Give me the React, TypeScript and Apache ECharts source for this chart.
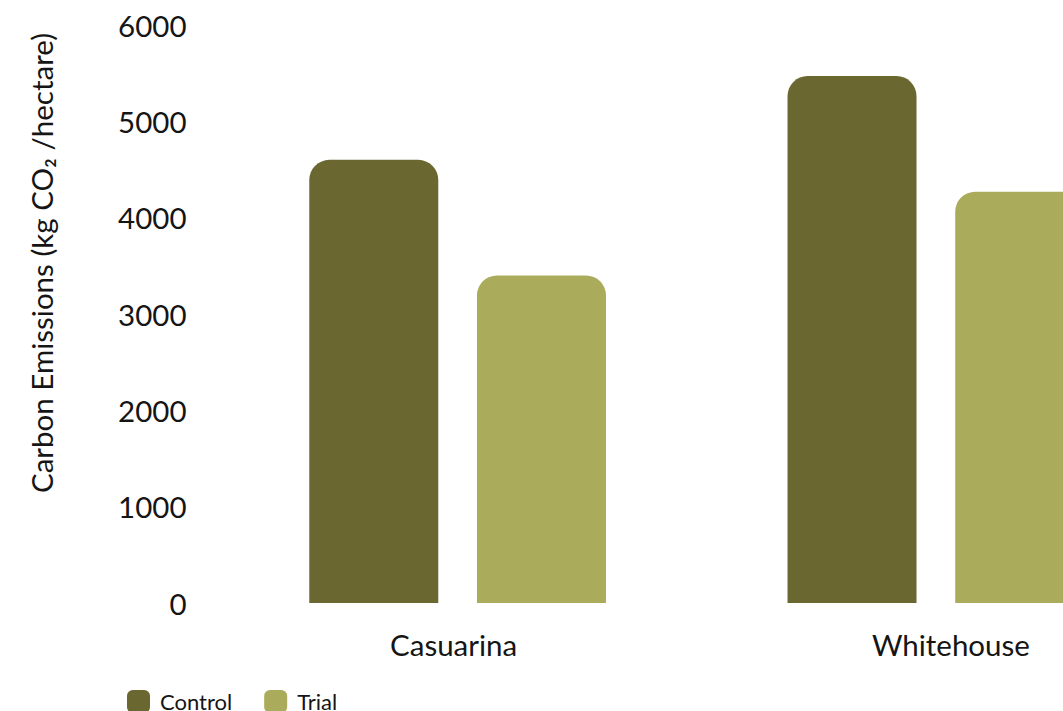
import React, { useEffect, useRef } from "react";
import * as echarts from "echarts";

const categories = ["Casuarina", "Whitehouse"];
const controlValues = [4600, 5470];
const trialValues = [3400, 4270];
const seriesNames = ["Control", "Trial"];
const yTicks = { min: 0, max: 6000, interval: 1000 };
const yAxisTitle = "Carbon Emissions (kg CO\u2082 /hectare)";

const FONT = "Lato, 'Noto Sans', sans-serif";
const TEXT = "#151515";
const DARK = "#6a6830";
const LIGHT = "#abab5c";

export default function App() {
  const ref = useRef<HTMLDivElement>(null);
  useEffect(() => {
    if (!ref.current) return;
    const chart = echarts.init(ref.current, null, { renderer: "svg" });
    chart.setOption({
      animation: false,
      textStyle: { fontFamily: FONT, color: TEXT },
      grid: { left: 218.5, right: 0, top: 25, bottom: 127, containLabel: false },
      legend: {
        left: 127,
        top: 690,
        padding: 0,
        itemWidth: 23,
        itemHeight: 23,
        itemGap: 32,
        icon: "roundRect",
        textStyle: { fontFamily: FONT, fontSize: 22, color: TEXT, padding: [0, 0, 0, 5] },
        data: seriesNames,
      },
      xAxis: {
        type: "category",
        data: categories,
        axisLine: { show: false },
        axisTick: { show: false },
        axisLabel: {
          margin: 26,
          fontSize: 29.5,
          color: TEXT,
          fontFamily: FONT,
          formatter: (v: string) => (v === "Casuarina" ? `{a|${v}}` : `{b|${v}}`),
          rich: {
            a: { fontSize: 29.5, fontFamily: FONT, color: TEXT, padding: [0, 8, 0, 0] },
            b: { fontSize: 29.5, fontFamily: FONT, color: TEXT, padding: [0, 0, 0, 30] },
          },
        },
      },
      yAxis: {
        type: "value",
        min: yTicks.min,
        max: yTicks.max,
        interval: yTicks.interval,
        axisLine: { show: false },
        axisTick: { show: false },
        splitLine: { show: false },
        axisLabel: {
          fontSize: 29.5,
          color: TEXT,
          fontFamily: FONT,
          margin: 32,
          formatter: (v: number) => String(v),
        },
        name: yAxisTitle,
        nameLocation: "middle",
        nameGap: 162,
        nameTextStyle: { fontSize: 29.5, color: TEXT, fontFamily: FONT, padding: [0, 0, 0, 102] },
      },
      series: [
        {
          name: seriesNames[0],
          type: "bar",
          data: controlValues,
          barWidth: 129,
          barGap: "30%",
          itemStyle: { color: DARK, borderRadius: [20, 20, 0, 0] },
        },
        {
          name: seriesNames[1],
          type: "bar",
          data: trialValues,
          barWidth: 129,
          barGap: "30%",
          itemStyle: { color: LIGHT, borderRadius: [20, 20, 0, 0] },
        },
      ],
    });
    return () => chart.dispose();
  }, []);
  return (
    <div
      style={{
        position: "fixed",
        left: 0,
        top: 0,
        width: 1063,
        height: 711,
        overflow: "hidden",
        background: "#fff",
      }}
    >
      <div ref={ref} style={{ width: 1175, height: 730 }} />
    </div>
  );
}
